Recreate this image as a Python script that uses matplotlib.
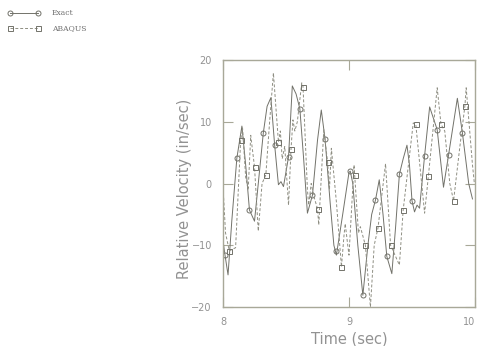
import matplotlib.pyplot as plt
from matplotlib.lines import Line2D

# Exact solution (solid)
exact_t = [8.005, 8.016, 8.04, 8.07, 8.11, 8.15, 8.18, 8.21, 8.25, 8.28, 8.32, 8.35,
           8.38, 8.41, 8.44, 8.46, 8.48, 8.52, 8.55, 8.58, 8.61, 8.64, 8.67, 8.71,
           8.75, 8.78, 8.81, 8.85, 8.88, 8.90, 8.95, 9.00, 9.01, 9.03, 9.07, 9.11,
           9.15, 9.18, 9.21, 9.24, 9.27, 9.30, 9.34, 9.37, 9.40, 9.43, 9.46, 9.48,
           9.50, 9.52, 9.54, 9.56, 9.60, 9.64, 9.70, 9.75, 9.79, 9.86, 9.90, 9.95,
           9.98]
exact_v = [-10.0, -11.6, -14.8, -6.0, 4.1, 9.3, 3.0, -4.3, -6.1, 0.0, 8.2, 12.5,
           13.9, 6.2, -0.2, 0.3, -0.5, 4.3, 15.8, 14.5, 12.1, 4.0, -4.8, -1.9,
           7.0, 11.9, 7.2, -3.0, -10.0, -11.6, -5.0, 1.8, 2.0, 0.0, -10.0, -18.1,
           -10.0, -5.0, -2.7, 0.6, -5.0, -11.8, -14.6, -7.0, 1.5, 4.0, 6.2, 3.0,
           -2.8, -4.6, -3.5, -4.0, 4.5, 12.4, 8.7, -0.6, 4.6, 13.8, 8.2, 0.0,
           -2.5]
exact_mark_t = [8.016, 8.11, 8.21, 8.32, 8.41, 8.52, 8.61, 8.71, 8.81, 8.90,
                9.01, 9.11, 9.21, 9.30, 9.40, 9.50, 9.60, 9.70, 9.79, 9.90]
exact_mark_v = [-11.6, 4.1, -4.3, 8.2, 6.2, 4.3, 12.1, -1.9, 7.2, -10.9,
                2.0, -18.1, -2.7, -11.8, 1.5, -2.8, 4.5, 8.7, 4.6, 8.2]

# ABAQUS result (dashed)
abaqus_t = [8.005, 8.02, 8.05, 8.10, 8.14, 8.155, 8.18, 8.20, 8.22, 8.25, 8.28, 8.31,
            8.34, 8.37, 8.40, 8.44, 8.455, 8.47, 8.49, 8.52, 8.54, 8.555, 8.57, 8.59,
            8.625, 8.635, 8.67, 8.68, 8.70, 8.72, 8.75, 8.76, 8.80, 8.83, 8.845, 8.86,
            8.90, 8.94, 8.96, 8.97, 8.99, 9.00, 9.04, 9.045, 9.075, 9.09, 9.13, 9.17,
            9.20, 9.23, 9.29, 9.33, 9.40, 9.43, 9.51, 9.53, 9.60, 9.63, 9.70, 9.73,
            9.76, 9.80, 9.83, 9.88, 9.92, 9.93, 9.98, 9.995]
abaqus_v = [-2.3, -8.0, -10.9, -10.4, 7.0, 9.0, 1.0, -1.0, 7.8, 2.7, -7.7, 0.0,
            1.4, 10.0, 17.9, 6.7, 8.5, 4.0, 6.0, -3.5, 5.6, 10.3, 8.5, 10.0,
            16.3, 15.7, -1.0, -3.5, 0.0, -2.0, -4.1, -6.7, 8.7, 3.5, -1.0, 5.7,
            -3.0, -13.5, -8.5, -6.5, -10.0, -11.6, 3.0, 1.4, -8.0, -7.0, -10.0, -20.0,
            -10.0, -7.2, 3.2, -10.0, -13.2, -4.3, 9.8, 9.6, -4.8, 1.2, 15.5, 9.6,
            8.5, 0.0, -2.8, 6.0, 12.6, 15.5, 3.0, 0.0]
abaqus_mark_t = [8.05, 8.14, 8.25, 8.34, 8.44, 8.54, 8.635, 8.75, 8.83, 8.94,
                 9.045, 9.13, 9.23, 9.33, 9.43, 9.53, 9.63, 9.73, 9.83, 9.92]
abaqus_mark_v = [-10.9, 7.0, 2.7, 1.4, 6.7, 5.6, 15.7, -4.1, 3.5, -13.5,
                 1.4, -10.0, -7.2, -10.0, -4.3, 9.6, 1.2, 9.6, -2.8, 12.6]

solid_col = '#72726a'
dash_col = '#8e8e82'
frame_col = '#a8a898'
text_col = '#929292'

fig = plt.figure(figsize=(4.78, 3.46), dpi=100)
ax = fig.add_axes([223 / 478, 1 - 307 / 346, 252 / 478, 247 / 346])

ax.plot(exact_t, exact_v, '-', color=solid_col, lw=0.7)
ax.plot(exact_mark_t, exact_mark_v, 'o', ms=3.6, mfc='none', mec=solid_col, mew=0.7)
ax.plot(abaqus_t, abaqus_v, '--', color=dash_col, lw=0.7, dashes=(3, 2))
ax.plot(abaqus_mark_t, abaqus_mark_v, 's', ms=3.6, mfc='none', mec=solid_col, mew=0.7)

ax.set_xlim(8, 10)
ax.set_ylim(-20, 20)
ax.set_xticks([8, 9, 10])
ax.set_yticks([-20, -10, 0, 10, 20])
ax.tick_params(direction='in', length=7, width=0.8, color=frame_col,
               labelcolor=text_col, labelsize=7, top=True, right=True)
ax.tick_params(axis='y', pad=8)
ax.tick_params(axis='x', pad=7)
ax.get_xticklabels()[-1].set_horizontalalignment('right')
for s in ax.spines.values():
    s.set_color(frame_col)
    s.set_linewidth(1.0)

ax.set_xlabel('Time (sec)', color=text_col, fontsize=10.5)
ax.set_ylabel('Relative Velocity (in/sec)', color=text_col, fontsize=10.5)
ax.xaxis.set_label_coords(0.5, -0.098)
ax.yaxis.set_label_coords(-0.125, 0.48)

# legend in figure pixels
def fx(px):
    return px / 478

def fy(py):
    return 1 - py / 346

fig.add_artist(Line2D([fx(10), fx(38)], [fy(13), fy(13)], color=solid_col, lw=0.7,
                      marker='o', ms=3.6, mfc='none', mec=solid_col, mew=0.7))
fig.add_artist(Line2D([fx(10), fx(38)], [fy(28), fy(28)], color=dash_col, lw=0.7,
                      ls='--', dashes=(3, 2), marker='s', ms=3.6, mfc='none',
                      mec=solid_col, mew=0.7))
fig.text(fx(52), fy(13), 'Exact', fontsize=5.5, family='DejaVu Serif',
         color='#707070', va='center')
fig.text(fx(52), fy(28), 'ABAQUS', fontsize=5.5, family='DejaVu Serif',
         color='#707070', va='center')

fig.savefig('out.png', dpi=100)
